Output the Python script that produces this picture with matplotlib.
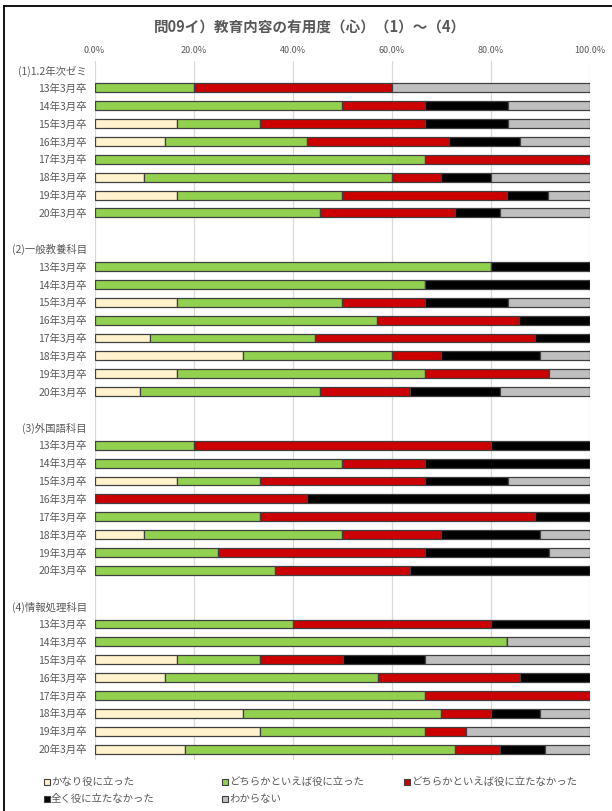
import numpy as np
import matplotlib
matplotlib.use("Agg")
import matplotlib.pyplot as plt
from matplotlib.lines import Line2D
from matplotlib.patches import Rectangle

plt.rcParams['font.family'] = ['Noto Sans CJK JP', 'DejaVu Sans']

title = "問09イ）教育内容の有用度（心）（1）～（4）"
groups = ["(1)1.2年次ゼミ", "(2)一般教養科目", "(3)外国語科目", "(4)情報処理科目"]
years = ["13年3月卒", "14年3月卒", "15年3月卒", "16年3月卒",
         "17年3月卒", "18年3月卒", "19年3月卒", "20年3月卒"]
series_names = ["かなり役に立った", "どちらかといえば役に立った",
                "どちらかといえば役に立たなかった", "全く役に立たなかった", "わからない"]
colors = ["#FFF2CC", "#92D050", "#CC0000", "#000000", "#BFBFBF"]

# percentages, 8 years per group (13..20), groups (1)..(4)
kanari = [0, 0, 16.7, 14.3, 0, 10, 16.7, 0,
          0, 0, 16.7, 0, 11.1, 30, 16.7, 9.1,
          0, 0, 16.7, 0, 0, 10, 0, 0,
          0, 0, 16.7, 14.3, 0, 30, 33.3, 18.2]
dochira_yaku = [20, 50, 16.7, 28.6, 66.7, 50, 33.3, 45.5,
                80, 66.7, 33.3, 57.1, 33.3, 30, 50, 36.4,
                20, 50, 16.7, 0, 33.3, 40, 25, 36.4,
                40, 83.3, 16.7, 42.9, 66.7, 40, 33.3, 54.5]
dochira_nai = [40, 16.7, 33.3, 28.6, 33.3, 10, 33.3, 27.3,
               0, 0, 16.7, 28.6, 44.4, 10, 25, 18.2,
               60, 16.7, 33.3, 42.9, 55.6, 20, 41.7, 27.3,
               40, 0, 16.7, 28.6, 33.3, 10, 8.3, 9.1]
mattaku = [0, 16.7, 16.7, 14.3, 0, 10, 8.3, 9.1,
           20, 33.3, 16.7, 14.3, 11.1, 20, 0, 18.2,
           20, 33.3, 16.7, 57.1, 11.1, 20, 25, 36.4,
           20, 0, 16.7, 14.3, 0, 10, 0, 9.1]
wakaranai = [40, 16.7, 16.7, 14.3, 0, 20, 8.3, 18.2,
             0, 0, 16.7, 0, 0, 10, 8.3, 18.2,
             0, 0, 16.7, 0, 0, 10, 8.3, 0,
             0, 16.7, 33.3, 0, 0, 10, 25, 9.1]

W, H = 612, 811
fig = plt.figure(figsize=(W / 100, H / 100), dpi=100)
ax = fig.add_axes([94.5 / W, 1 - 760 / H, (590 - 94.5) / W, (760 - 61) / H])

# row layout: header, 8 years, blank
bar_rows = []
tick_pos = []
tick_lab = []
row = 0
for g in groups:
    tick_pos.append(row)
    tick_lab.append(g)
    row += 1
    for y in years:
        tick_pos.append(row)
        tick_lab.append(y)
        bar_rows.append(row)
        row += 1
    row += 1
bar_rows = np.array(bar_rows)

data = [kanari, dochira_yaku, dochira_nai, mattaku, wakaranai]
left = np.zeros(len(bar_rows))
for vals, c in zip(data, colors):
    vals = np.array(vals, dtype=float)
    ax.barh(bar_rows, vals, left=left, height=0.5, color=c,
            edgecolor="#404040", linewidth=0.9, zorder=3)
    left += vals

ax.set_xlim(0, 100)
ax.set_ylim(38.61, -0.5)
ax.xaxis.tick_top()
ax.set_xticks(np.arange(0, 101, 20))
ax.set_xticklabels(["%.1f%%" % v for v in np.arange(0, 101, 20)])
ax.set_yticks(tick_pos)
ax.set_yticklabels(tick_lab)
ax.tick_params(axis="x", length=0, pad=4, labelsize=6.5, labelcolor="#595959")
ax.tick_params(axis="y", length=0, pad=5.5, labelsize=7.5, labelcolor="#595959")
ax.grid(axis="x", color="#D9D9D9", linewidth=0.9, zorder=0)
ax.set_axisbelow(True)
for s in ax.spines.values():
    s.set_visible(False)

fig.text(310 / W, 1 - 28 / H, title, ha="center", va="center",
         fontsize=10.5, fontweight="bold", color="#595959")

# frame of the chart area
fig.add_artist(Line2D([4 / W, 4 / W], [0, 1 - 6 / H], transform=fig.transFigure,
                      color="#000000", linewidth=1.3))
fig.add_artist(Line2D([4 / W, 1], [1 - 6 / H, 1 - 6 / H], transform=fig.transFigure,
                      color="#000000", linewidth=1.3))

# legend
leg_xy = [(47, 782), (225, 782), (407, 782), (47, 799), (225, 799)]
for (lx, ly), name, c in zip(leg_xy, series_names, colors):
    fig.add_artist(Rectangle(((lx - 3) / W, 1 - (ly + 3) / H), 6 / W, 6 / H,
                             transform=fig.transFigure, facecolor=c,
                             edgecolor="#404040", linewidth=0.8))
    fig.text((lx + 4) / W, 1 - ly / H, name, ha="left", va="center",
             fontsize=7.5, color="#595959")

fig.savefig("out.png", dpi=100)
